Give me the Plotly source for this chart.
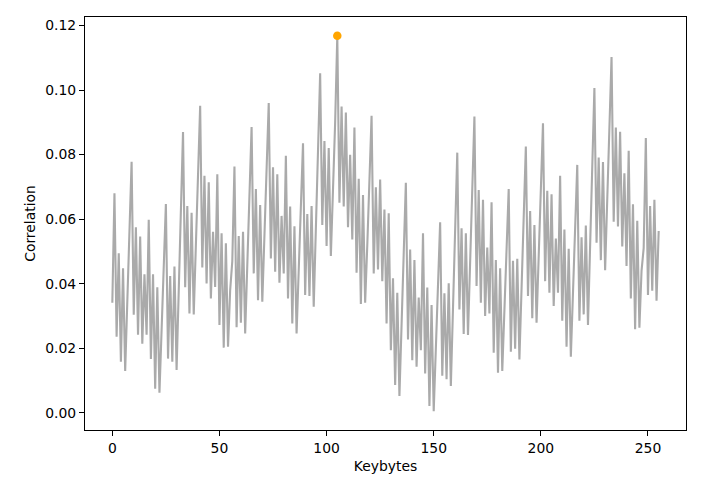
import numpy as np
import plotly.graph_objects as go

keybytes = list(range(256))
correlation = [
    0.0341, 0.0680, 0.0236, 0.0494, 0.0158, 0.0448, 0.0130, 0.0330, 0.0550, 0.0778,
    0.0304, 0.0575, 0.0242, 0.0546, 0.0214, 0.0429, 0.0242, 0.0598, 0.0167, 0.0429,
    0.0075, 0.0389, 0.0062, 0.0250, 0.0430, 0.0647, 0.0168, 0.0424, 0.0158, 0.0453,
    0.0133, 0.0370, 0.0610, 0.0870, 0.0389, 0.0641, 0.0308, 0.0620, 0.0305, 0.0520,
    0.0730, 0.0951, 0.0450, 0.0734, 0.0401, 0.0714, 0.0354, 0.0561, 0.0390, 0.0739,
    0.0272, 0.0556, 0.0202, 0.0525, 0.0205, 0.0380, 0.0470, 0.0763, 0.0265, 0.0548,
    0.0279, 0.0561, 0.0246, 0.0470, 0.0660, 0.0885, 0.0432, 0.0693, 0.0349, 0.0644,
    0.0344, 0.0550, 0.0760, 0.0960, 0.0478, 0.0761, 0.0437, 0.0739, 0.0403, 0.0610,
    0.0432, 0.0796, 0.0354, 0.0639, 0.0277, 0.0578, 0.0246, 0.0450, 0.0640, 0.0835,
    0.0365, 0.0616, 0.0362, 0.0641, 0.0329, 0.0580, 0.0820, 0.1052, 0.0582, 0.0842,
    0.0517, 0.0820, 0.0486, 0.0680, 0.0900, 0.1168, 0.0651, 0.0949, 0.0639, 0.0930,
    0.0575, 0.0799, 0.0537, 0.0884, 0.0434, 0.0725, 0.0337, 0.0675, 0.0341, 0.0520,
    0.0700, 0.0920, 0.0432, 0.0699, 0.0444, 0.0723, 0.0408, 0.0630, 0.0277, 0.0618,
    0.0194, 0.0417, 0.0086, 0.0372, 0.0052, 0.0270, 0.0490, 0.0713, 0.0227, 0.0506,
    0.0163, 0.0473, 0.0143, 0.0357, 0.0194, 0.0556, 0.0122, 0.0388, 0.0021, 0.0334,
    0.0005, 0.0200, 0.0400, 0.0590, 0.0115, 0.0370, 0.0104, 0.0401, 0.0083, 0.0330,
    0.0570, 0.0806, 0.0320, 0.0572, 0.0244, 0.0556, 0.0241, 0.0470, 0.0700, 0.0918,
    0.0393, 0.0690, 0.0341, 0.0660, 0.0300, 0.0512, 0.0308, 0.0652, 0.0186, 0.0473,
    0.0124, 0.0448, 0.0130, 0.0330, 0.0500, 0.0693, 0.0189, 0.0471, 0.0199, 0.0477,
    0.0165, 0.0390, 0.0610, 0.0825, 0.0362, 0.0625, 0.0293, 0.0582, 0.0279, 0.0490,
    0.0700, 0.0897, 0.0408, 0.0688, 0.0372, 0.0677, 0.0331, 0.0540, 0.0372, 0.0734,
    0.0285, 0.0568, 0.0205, 0.0508, 0.0174, 0.0380, 0.0580, 0.0768, 0.0285, 0.0544,
    0.0305, 0.0580, 0.0272, 0.0520, 0.0760, 0.1006, 0.0527, 0.0791, 0.0473, 0.0777,
    0.0442, 0.0640, 0.0870, 0.1102, 0.0592, 0.0884, 0.0577, 0.0871, 0.0515, 0.0742,
    0.0455, 0.0812, 0.0354, 0.0646, 0.0259, 0.0595, 0.0264, 0.0440, 0.0510, 0.0851,
    0.0365, 0.0641, 0.0378, 0.0660, 0.0347, 0.0563,
]
x_ticks = [0, 50, 100, 150, 200, 250]
y_ticks = [0.00, 0.02, 0.04, 0.06, 0.08, 0.10, 0.12]

y = np.array(correlation)
best = int(np.argmax(y))

xmin, xmax = min(keybytes), max(keybytes)
xpad = 0.05 * (xmax - xmin)
ymin, ymax = y.min(), y.max()
ypad = 0.05 * (ymax - ymin)

font = dict(family="DejaVu Sans", size=13.9, color="black")

fig = go.Figure()
fig.add_trace(go.Scatter(x=keybytes, y=correlation, mode="lines",
                         line=dict(color="#aaaaaa", width=2.1), showlegend=False))
fig.add_trace(go.Scatter(x=[keybytes[best]], y=[correlation[best]], mode="markers",
                         marker=dict(color="#ffa500", size=8.5), showlegend=False))

fig.update_layout(
    width=726, height=481,
    margin=dict(l=77, r=48, t=9, b=59, autoexpand=False),
    paper_bgcolor="white", plot_bgcolor="white",
    font=font,
    xaxis=dict(range=[xmin - xpad, xmax + xpad], tickvals=x_ticks,
               ticks="outside", ticklen=5, tickwidth=1.1, tickcolor="black",
               showline=True, linecolor="black", linewidth=1.1, mirror=True,
               showgrid=False, zeroline=False, automargin=False,
               tickfont=font,
               title=dict(text="Keybytes", font=font, standoff=6)),
    yaxis=dict(range=[ymin - ypad, ymax + ypad], tickvals=y_ticks, tickformat=".2f",
               ticks="outside", ticklen=5, tickwidth=1.1, tickcolor="black",
               showline=True, linecolor="black", linewidth=1.1, mirror=True,
               showgrid=False, zeroline=False, automargin=False,
               tickfont=font,
               title=dict(text="Correlation", font=font, standoff=6)),
)

fig.write_html("out.html")
